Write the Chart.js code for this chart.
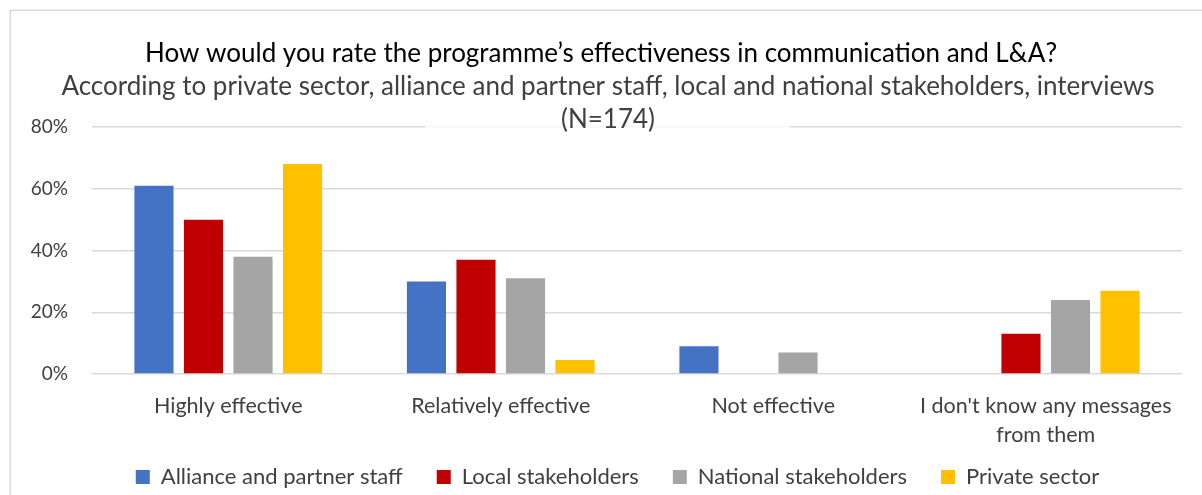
<!DOCTYPE html>
<html>
<head>
<meta charset="utf-8">
<script src="https://cdn.jsdelivr.net/npm/chart.js@4/dist/chart.umd.min.js"></script>
<style>
  html, body { margin: 0; padding: 0; background: #fff; }
  #wrap { position: relative; width: 1202px; height: 495px; }
</style>
</head>
<body>
<div id="wrap"><canvas id="chart"></canvas></div>
<script>
// answer categories (last one wraps onto two lines)
var categories = ["Highly effective", "Relatively effective", "Not effective", ["I don't know any messages", "from them"]];

// share of respondents per group, in %
var allianceStaff = [61, 30, 9, 0];
var localStakeholders = [50, 37, 0, 13];
var nationalStakeholders = [38, 31, 7, 24];
var privateSector = [68, 4.5, 0, 27];

var yTicks = [0, 20, 40, 60, 80];

var titleText = "How would you rate the programme\u2019s effectiveness in communication and L&A?";
var subtitleLines = ["According to private sector, alliance and partner staff, local and national stakeholders, interviews", "(N=174)"];

var FONT = "Lato";

// let tick labels spill outside their scale box instead of being clipped
function noLabelClip(scale){
  scale._computeLabelArea = function(){ return undefined; };
}

// frame behind the chart, headings drawn on top of the plot area
var frame = {
  id: "frame",
  beforeDraw: function(chart){
    var ctx = chart.ctx;
    ctx.save();
    ctx.fillStyle = "#fff";
    ctx.fillRect(0, 0, chart.width, chart.height);
    ctx.strokeStyle = "#d9d9d9";
    ctx.lineWidth = 1.5;
    ctx.strokeRect(10.25, 10.25, chart.width + 100, chart.height + 100);
    ctx.restore();
  },
  afterDraw: function(chart){
    var ctx = chart.ctx;
    ctx.save();
    // title box background partly hides the top gridline
    ctx.fillStyle = "rgba(255,255,255,0.75)";
    ctx.fillRect(425, chart.chartArea.top - 3, 365, 6);
    ctx.textAlign = "center";
    ctx.textBaseline = "alphabetic";
    ctx.fillStyle = "#000";
    ctx.font = "26px " + FONT;
    ctx.fillText(titleText, 601, 62);
    ctx.fillStyle = "#404040";
    ctx.font = "26px " + FONT;
    ctx.fillText(subtitleLines[0], 608, 95);
    ctx.fillText(subtitleLines[1], 608, 128);
    ctx.restore();
  }
};

new Chart(document.getElementById("chart"), {
  type: "bar",
  data: {
    labels: categories,
    datasets: [
      { label: "Alliance and partner staff", data: allianceStaff, backgroundColor: "#4472C4" },
      { label: "Local stakeholders", data: localStakeholders, backgroundColor: "#C00000" },
      { label: "National stakeholders", data: nationalStakeholders, backgroundColor: "#A5A5A5" },
      { label: "Private sector", data: privateSector, backgroundColor: "#FFC000" }
    ]
  },
  options: {
    responsive: true,
    maintainAspectRatio: false,
    animation: false,
    layout: { padding: { top: 127, right: 20, left: 53, bottom: 0 } },
    datasets: { bar: { categoryPercentage: 0.727, barPercentage: 0.79, borderWidth: 0 } },
    scales: {
      x: {
        grid: { display: false, drawTicks: false },
        border: { display: false },
        ticks: { color: "#404040", font: { family: FONT, size: 21.5, lineHeight: 1.35 }, padding: 18, maxRotation: 0, autoSkip: false },
        afterFit: function(s){ s.height = 58; noLabelClip(s); }
      },
      y: {
        min: 0, max: 80,
        afterBuildTicks: function(s){ s.ticks = yTicks.map(function(v){ return { value: v }; }); },
        grid: { color: "#d9d9d9", lineWidth: 1.5, drawTicks: false },
        border: { display: false },
        ticks: { color: "#404040", font: { family: FONT, size: 19 }, padding: 24, callback: function(v){ return v + "%"; } },
        afterFit: function(s){ s.width = 39; noLabelClip(s); }
      }
    },
    plugins: {
      legend: {
        position: "bottom",
        maxHeight: 63,
        labels: { color: "#404040", font: { family: FONT, size: 22 }, boxWidth: 14, boxHeight: 14, padding: 34 }
      },
      tooltip: { enabled: false }
    }
  },
  plugins: [frame]
});
</script>
</body>
</html>
